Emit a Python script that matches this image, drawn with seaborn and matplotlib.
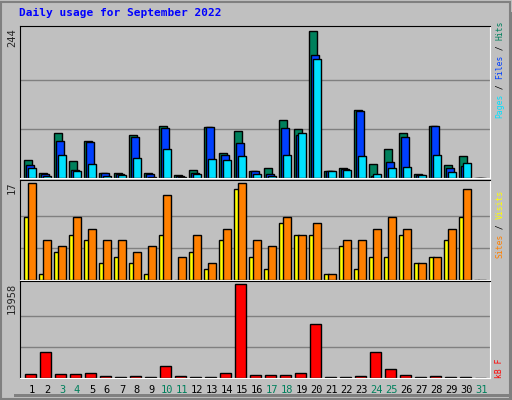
import matplotlib
matplotlib.use("Agg")
import matplotlib.pyplot as plt
import seaborn as sns
import numpy as np
import pandas as pd
from matplotlib.patches import Rectangle

sns.set_style("white")
plt.rcParams['font.family'] = ['DejaVu Sans Mono', 'DejaVu Sans']

days = list(range(1, 32))
hits  = [30,8,75,28,62,8,8,71,8,87,5,13,85,42,78,12,17,96,81,244,12,17,113,23,48,75,7,87,22,37,0]
files = [22,6,62,13,60,8,7,68,6,83,4,8,85,38,58,12,7,83,72,205,12,15,111,3,27,68,5,87,17,20,0]
pages = [17,4,38,12,23,4,5,33,2,48,2,7,32,30,37,7,3,38,75,198,12,13,37,7,17,18,5,38,10,25,0]
visits = [11,1,5,8,7,3,4,3,1,8,0,5,2,7,16,4,2,10,8,8,1,6,2,4,4,8,3,4,7,11,0]
sites  = [17,7,6,11,9,7,7,5,6,15,4,8,3,9,17,7,6,11,8,10,1,7,7,9,11,9,3,4,9,16,0]
kbytes = [660,3870,660,660,815,356,200,356,200,1730,356,200,200,815,13958,510,510,510,815,7990,200,200,356,3870,1270,510,200,356,200,200,0]
weekend = [3,4,10,11,17,18,24,25,31]

W, H = 512, 400
fig = plt.figure(figsize=(W/100, H/100), dpi=100)
fig.patch.set_facecolor('#c0c0c0')
BG = '#c0c0c0'

def fr(x0, y0, x1, y1):
    return [x0/W, 1-y1/H, (x1-x0)/W, (y1-y0)/H]

fig.add_artist(Rectangle((1/W, 1/H), (W-3)/W, (H-3)/H, transform=fig.transFigure,
                         fill=False, ec='#808080', lw=1.5))
fig.add_artist(Rectangle((14/W, 1-(H-3)/H), (W-14)/W, 3/H, transform=fig.transFigure,
                         color='#808080', lw=0))
fig.add_artist(Rectangle((1-3/W, 0), 3/W, (H-12)/H, transform=fig.transFigure,
                         color='#808080', lw=0))

def setup(ax, ymax):
    ax.set_facecolor(BG)
    for v in (ymax/3, 2*ymax/3):
        ax.axhline(v, color='#808080', lw=1, zorder=0)
    for s in ['top', 'left']:
        ax.spines[s].set_color('black')
    for s in ['bottom', 'right']:
        ax.spines[s].set_color('white')

def finish(ax, ymax):
    ax.set_xlim(0.2, 31.55); ax.set_ylim(0, ymax*1.035)
    ax.set_xlabel(''); ax.set_ylabel('')
    ax.set_xticks([]); ax.set_yticks([])

d = np.array(days, dtype=float)

ax1 = fig.add_axes(fr(20, 26, 490, 178))
setup(ax1, 244)
for vals, off, col in [(hits, -0.27, '#00805c'), (files, -0.13, '#0040ff'), (pages, 0.0, '#00e0ff')]:
    df = pd.DataFrame({'x': d + off, 'y': vals})
    sns.barplot(data=df, x='x', y='y', native_scale=True, width=0.52, color=col,
                saturation=1, edgecolor='black', linewidth=1, ax=ax1, zorder=2)
finish(ax1, 244)

ax2 = fig.add_axes(fr(20, 180, 490, 280))
setup(ax2, 17)
for vals, off, w, col in [(visits, -0.37, 0.34, '#ffff00'), (sites, 0.0, 0.5, '#ff8000')]:
    df = pd.DataFrame({'x': d + off, 'y': vals})
    sns.barplot(data=df, x='x', y='y', native_scale=True, width=w, color=col,
                saturation=1, edgecolor='black', linewidth=1, ax=ax2, zorder=2)
finish(ax2, 17)

ax3 = fig.add_axes(fr(20, 281, 490, 378))
setup(ax3, 13958)
df = pd.DataFrame({'x': d - 0.1, 'y': kbytes})
sns.barplot(data=df, x='x', y='y', native_scale=True, width=0.7, color='#ff0000',
            saturation=1, edgecolor='black', linewidth=1, ax=ax3, zorder=2)
finish(ax3, 13958)

for day in days:
    ax3.text(day, -0.07, str(day), transform=ax3.get_xaxis_transform(), ha='center', va='top',
             fontsize=7.5, color='#00805c' if day in weekend else 'black')

fig.text(19/W, 1-16/H, 'Daily usage for September 2022', color='#0000ff',
         fontsize=8, fontweight='bold', va='baseline')
fig.text(17/W, 1-28/H, '244', rotation=90, ha='right', va='top', fontsize=7.5)
fig.text(17/W, 1-181/H, '17', rotation=90, ha='right', va='top', fontsize=7.5)
fig.text(17/W, 1-283/H, '13958', rotation=90, ha='right', va='top', fontsize=7.5)

FS = 5.8
STEP = 0.602 * FS * 100 / 72

def vlabel(parts, ybottom):
    y = ybottom
    for txt, col in parts:
        fig.text(500/W, 1-y/H, txt, rotation=90, ha='center', va='bottom', color=col, fontsize=FS)
        y -= len(txt) * STEP

vlabel([('Pages', '#00e0ff'), (' / ', 'black'), ('Files', '#0040ff'), (' / ', 'black'), ('Hits', '#00805c')], 118)
vlabel([('Sites', '#ff8000'), (' / ', 'black'), ('Visits', '#ffff00')], 258)
vlabel([('kB F', '#ff0000')], 378)

fig.savefig('out.png', dpi=100, facecolor=fig.get_facecolor())
